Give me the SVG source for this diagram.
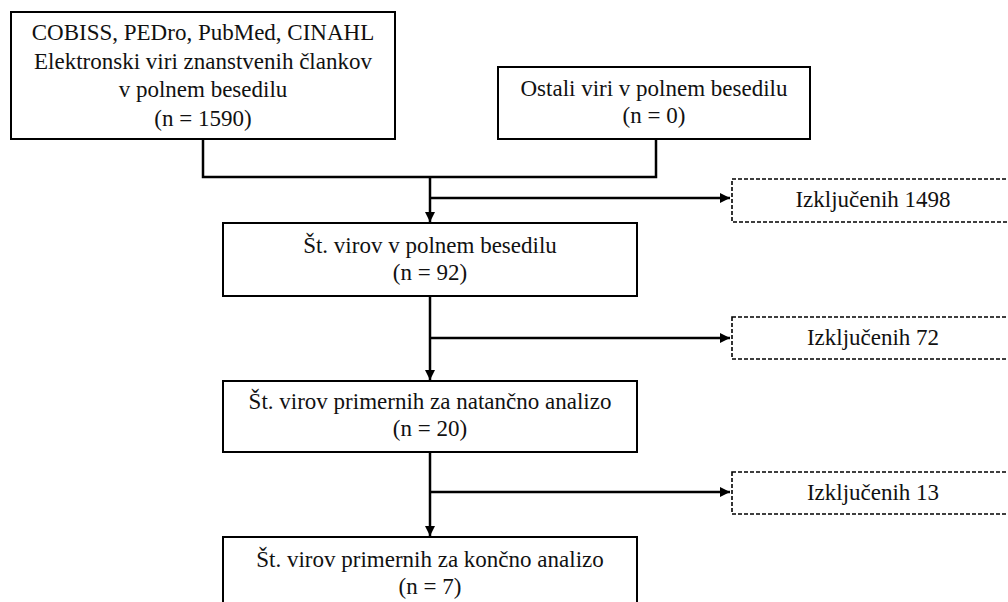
<svg xmlns="http://www.w3.org/2000/svg" width="1008" height="602" viewBox="0 0 1008 602">
<style>
  .box{fill:#fff;stroke:#000;stroke-width:2}
  .dbox{fill:#fff;stroke:#000;stroke-width:1.6;stroke-dasharray:4 2}
  .c{fill:none;stroke:#000;stroke-width:2.5}
</style>
<defs>
  <marker id="ah" viewBox="0 0 10 10" refX="10" refY="5" markerWidth="12" markerHeight="10" markerUnits="userSpaceOnUse" orient="auto">
    <path d="M0,0 L10,5 L0,10 z" fill="#000"/>
  </marker>
</defs>
<rect width="1008" height="602" fill="#fff"/>
<g id="connectors">
  <path class="c" d="M203,139 V177 H656 V139"/>
  <path class="c" d="M430,177 V222" marker-end="url(#ah)"/>
  <path class="c" d="M430,198 H730" marker-end="url(#ah)"/>
  <path class="c" d="M430,296 V380" marker-end="url(#ah)"/>
  <path class="c" d="M430,338 H730" marker-end="url(#ah)"/>
  <path class="c" d="M430,452 V536" marker-end="url(#ah)"/>
  <path class="c" d="M430,492 H730" marker-end="url(#ah)"/>
</g>
<g font-family="'Liberation Serif', Tinos, 'Times New Roman', 'DejaVu Serif', serif" font-size="23" fill="#111" text-anchor="middle">
<g id="n1">
  <rect class="box" x="11" y="12" width="384" height="127"/>
  <text x="203" y="40">COBISS, PEDro, PubMed, CINAHL</text>
  <text x="203" y="68.5">Elektronski viri znanstvenih člankov</text>
  <text x="203" y="97">v polnem besedilu</text>
  <text x="203" y="125.5">(n = 1590)</text>
</g>
<g id="n2">
  <rect class="box" x="498" y="67" width="312" height="72"/>
  <text x="654" y="96">Ostali viri v polnem besedilu</text>
  <text x="654" y="123">(n = 0)</text>
</g>
<g id="x1">
  <rect class="dbox" x="732" y="179" width="290" height="43"/>
  <text x="873" y="207">Izključenih 1498</text>
</g>
<g id="n3">
  <rect class="box" x="223" y="223" width="414" height="73"/>
  <text x="430" y="253">Št. virov v polnem besedilu</text>
  <text x="430" y="280">(n = 92)</text>
</g>
<g id="x2">
  <rect class="dbox" x="732" y="317" width="290" height="42"/>
  <text x="873" y="345">Izključenih 72</text>
</g>
<g id="n4">
  <rect class="box" x="223" y="381" width="414" height="71"/>
  <text x="430" y="409">Št. virov primernih za natančno analizo</text>
  <text x="430" y="436">(n = 20)</text>
</g>
<g id="x3">
  <rect class="dbox" x="732" y="472" width="290" height="42"/>
  <text x="873" y="500">Izključenih 13</text>
</g>
<g id="n5">
  <rect class="box" x="223" y="537" width="414" height="80"/>
  <text x="430" y="567">Št. virov primernih za končno analizo</text>
  <text x="430" y="594">(n = 7)</text>
</g>
</g>
</svg>
